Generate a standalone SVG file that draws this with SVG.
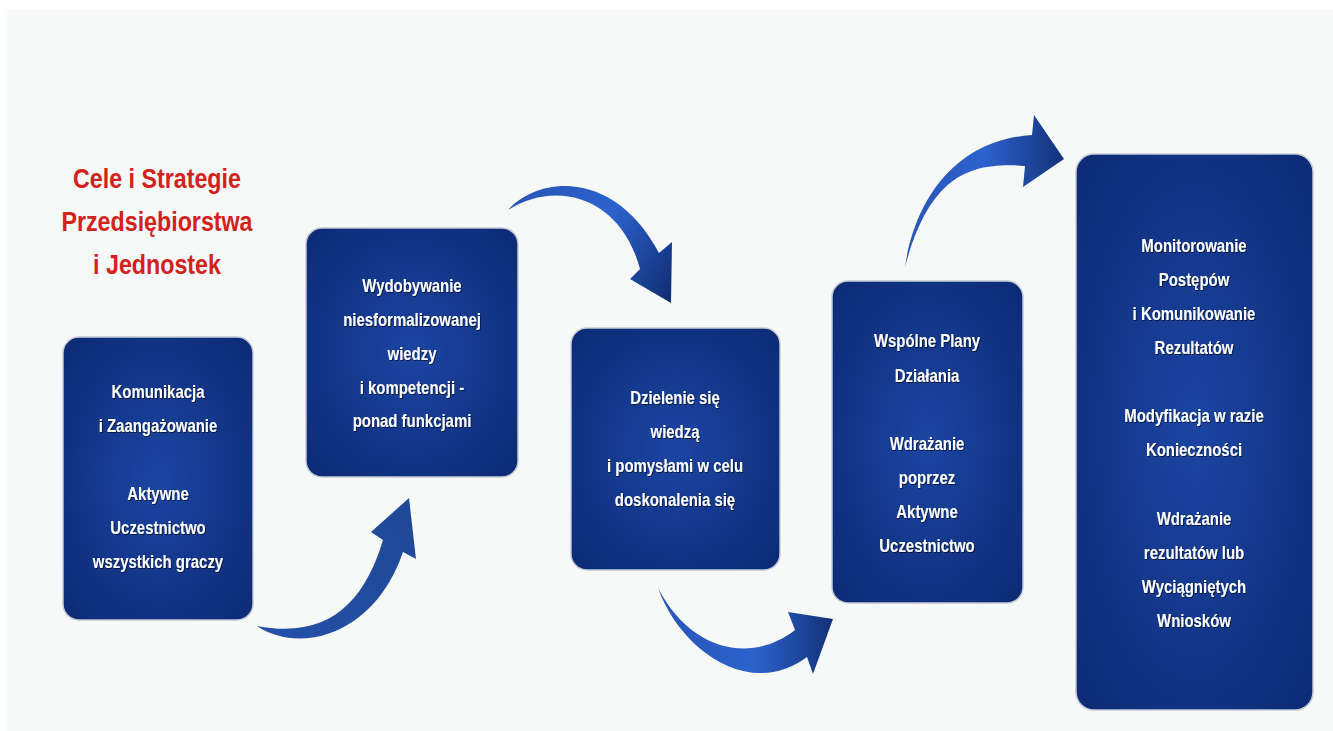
<svg xmlns="http://www.w3.org/2000/svg" width="1333" height="731" viewBox="0 0 1333 731">
  <defs>
    <radialGradient id="boxFill" cx="50%" cy="50%" r="70%">
      <stop offset="0" stop-color="#1c45a3"/>
      <stop offset="1" stop-color="#0c2a74"/>
    </radialGradient>
    <linearGradient id="arrowA" gradientUnits="userSpaceOnUse" x1="257" y1="630" x2="412" y2="500">
      <stop offset="0" stop-color="#2450a8"/>
      <stop offset="1" stop-color="#1f4896"/>
    </linearGradient>
    <linearGradient id="arrowB" gradientUnits="userSpaceOnUse" x1="508" y1="200" x2="672" y2="300">
      <stop offset="0" stop-color="#2a55b5"/>
      <stop offset="0.5" stop-color="#2c62cd"/>
      <stop offset="1" stop-color="#102c70"/>
    </linearGradient>
    <linearGradient id="arrowC" gradientUnits="userSpaceOnUse" x1="658" y1="630" x2="833" y2="630">
      <stop offset="0" stop-color="#2a55b5"/>
      <stop offset="0.55" stop-color="#2c62cd"/>
      <stop offset="1" stop-color="#133277"/>
    </linearGradient>
    <linearGradient id="arrowD" gradientUnits="userSpaceOnUse" x1="905" y1="180" x2="1064" y2="180">
      <stop offset="0" stop-color="#2a55b5"/>
      <stop offset="0.5" stop-color="#2c62cd"/>
      <stop offset="1" stop-color="#133277"/>
    </linearGradient>
    <filter id="txtShadow" x="-10%" y="-10%" width="120%" height="130%">
      <feDropShadow dx="1" dy="1" stdDeviation="0.6" flood-color="#000" flood-opacity="0.6"/>
    </filter>
  </defs>
  <style>
    .box { fill: url(#boxFill); stroke: #c3c9d4; stroke-width: 1.5; }
    .lbl { font-family: "Liberation Sans", Arial, sans-serif; font-weight: bold; font-size: 18px; fill: #ffffff; text-anchor: middle; filter: url(#txtShadow); }
    .title { font-family: "Liberation Sans", Arial, sans-serif; font-weight: bold; font-size: 28px; fill: #d1221b; text-anchor: middle; }
  </style>

  <!-- page background -->
  <rect x="0" y="0" width="1333" height="731" fill="#ffffff"/>
  <rect x="7" y="10" width="1326" height="721" fill="#f7f8f8"/>

  <!-- heading (text narrowed horizontally) -->
  <g id="title" transform="translate(157 0) scale(0.83 1)">
    <text class="title" x="0" y="188">Cele i Strategie</text>
    <text class="title" x="0" y="231">Przedsiębiorstwa</text>
    <text class="title" x="0" y="274">i Jednostek</text>
  </g>

  <!-- curved arrows between the steps -->
  <g id="connectors">
    <path fill="url(#arrowA)" d="M257,626 C300,655 375,635 403,552 L416,559 L409,498 L371,532 L383,540 C365,600 330,640 257,626 Z"/>
    <path fill="url(#arrowB)" d="M508,210 C540,175 615,170 659,253 L672,242 L671,303 L630,279 L640,269 C620,195 555,180 508,210 Z"/>
    <path fill="url(#arrowC)" d="M658,588 C680,650 750,700 807,657 L813,674 L833,619 L788,612 L795,630 C750,665 690,650 658,588 Z"/>
    <path fill="url(#arrowD)" d="M905,267 C915,200 955,140 1032,135 L1034,115 L1064,159 L1023,187 L1025,166 C970,162 930,175 905,267 Z"/>
  </g>

  <g id="step1">
    <rect class="box" x="63" y="337" width="190" height="283" rx="16"/>
    <g transform="translate(158 0) scale(0.83 1)">
      <text class="lbl" x="0" y="398">Komunikacja</text>
      <text class="lbl" x="0" y="432">i Zaangażowanie</text>
      <text class="lbl" x="0" y="500">Aktywne</text>
      <text class="lbl" x="0" y="534">Uczestnictwo</text>
      <text class="lbl" x="0" y="568">wszystkich graczy</text>
    </g>
  </g>

  <g id="step2">
    <rect class="box" x="306" y="228" width="212" height="249" rx="16"/>
    <g transform="translate(412 0) scale(0.83 1)">
      <text class="lbl" x="0" y="292">Wydobywanie</text>
      <text class="lbl" x="0" y="326">niesformalizowanej</text>
      <text class="lbl" x="0" y="360">wiedzy</text>
      <text class="lbl" x="0" y="394">i kompetencji -</text>
      <text class="lbl" x="0" y="427">ponad funkcjami</text>
    </g>
  </g>

  <g id="step3">
    <rect class="box" x="571" y="328" width="209" height="242" rx="16"/>
    <g transform="translate(675 0) scale(0.83 1)">
      <text class="lbl" x="0" y="404">Dzielenie się</text>
      <text class="lbl" x="0" y="438">wiedzą</text>
      <text class="lbl" x="0" y="472">i pomysłami w celu</text>
      <text class="lbl" x="0" y="506">doskonalenia się</text>
    </g>
  </g>

  <g id="step4">
    <rect class="box" x="832" y="281" width="191" height="322" rx="16"/>
    <g transform="translate(927 0) scale(0.83 1)">
      <text class="lbl" x="0" y="347">Wspólne Plany</text>
      <text class="lbl" x="0" y="382">Działania</text>
      <text class="lbl" x="0" y="450">Wdrażanie</text>
      <text class="lbl" x="0" y="484">poprzez</text>
      <text class="lbl" x="0" y="518">Aktywne</text>
      <text class="lbl" x="0" y="552">Uczestnictwo</text>
    </g>
  </g>

  <g id="step5">
    <rect class="box" x="1076" y="154" width="237" height="556" rx="18"/>
    <g transform="translate(1194 0) scale(0.83 1)">
      <text class="lbl" x="0" y="252">Monitorowanie</text>
      <text class="lbl" x="0" y="286">Postępów</text>
      <text class="lbl" x="0" y="320">i Komunikowanie</text>
      <text class="lbl" x="0" y="354">Rezultatów</text>
      <text class="lbl" x="0" y="422">Modyfikacja w razie</text>
      <text class="lbl" x="0" y="456">Konieczności</text>
      <text class="lbl" x="0" y="525">Wdrażanie</text>
      <text class="lbl" x="0" y="559">rezultatów lub</text>
      <text class="lbl" x="0" y="593">Wyciągniętych</text>
      <text class="lbl" x="0" y="627">Wniosków</text>
    </g>
  </g>
</svg>
